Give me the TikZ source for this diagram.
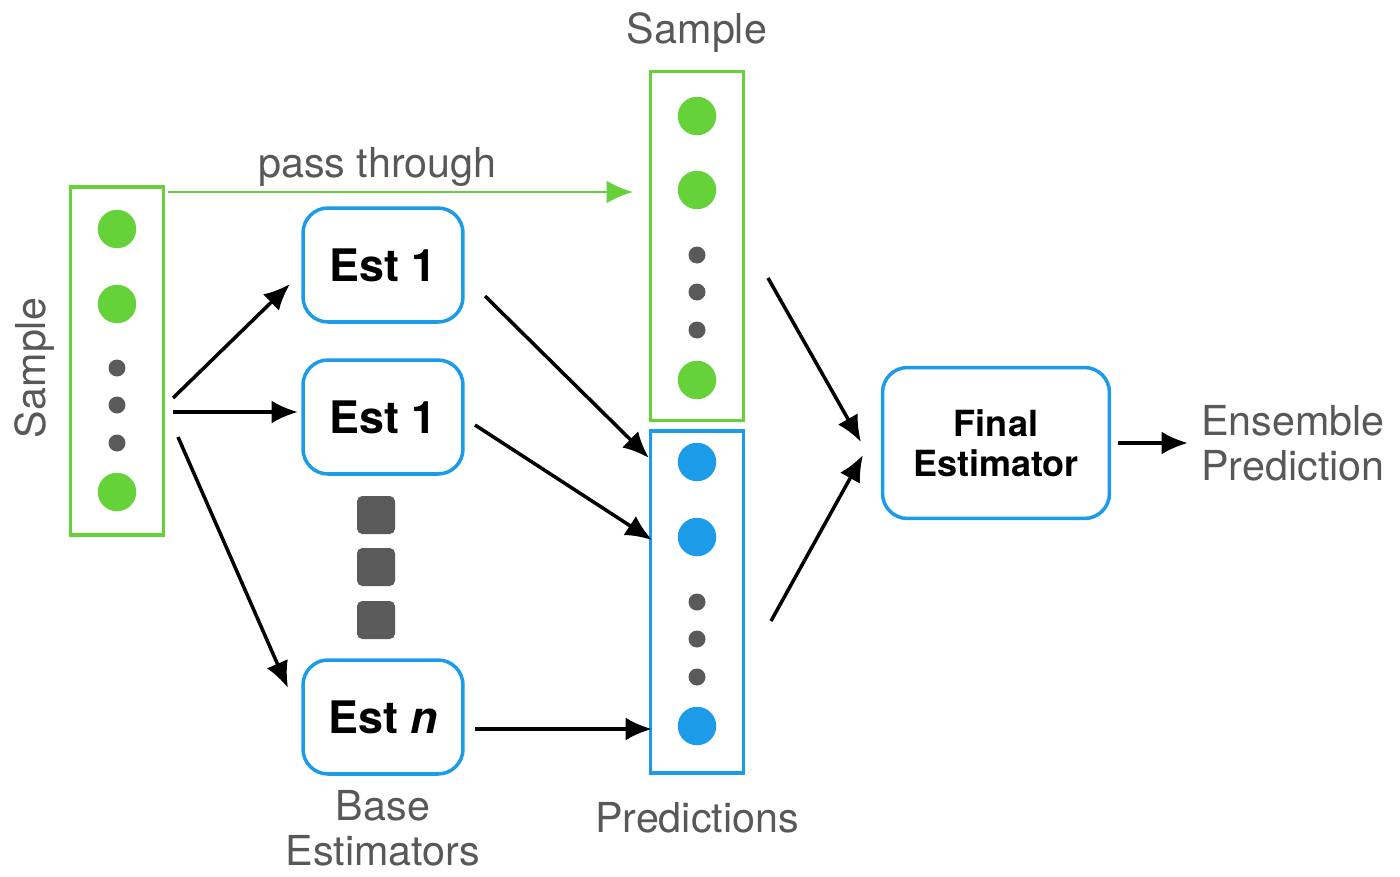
\documentclass[tikz,border=0pt]{standalone}
\usepackage{fontspec}
\setmainfont{TeX Gyre Heros}
\usetikzlibrary{arrows.meta}
\definecolor{smpgreen}{RGB}{102,210,58}
\definecolor{estblue}{RGB}{28,156,232}
\definecolor{txtgray}{RGB}{88,88,88}
\definecolor{dotgray}{RGB}{90,90,90}
\tikzset{
  colbox/.style={draw, line width=2pt, minimum width=1.86cm, inner sep=0pt},
  estbox/.style={draw=estblue, line width=2pt, rounded corners=0.5cm, minimum width=3.2cm, minimum height=2.28cm, align=center, font=\fontsize{25.5}{27}\selectfont\bfseries},
  bigdot/.style={circle, fill, inner sep=0pt, minimum size=0.77cm},
  smalldot/.style={circle, fill=dotgray, inner sep=0pt, minimum size=0.34cm},
  skip/.style={rounded corners=3pt, fill=dotgray, inner sep=0pt, minimum size=0.76cm},
  lbl/.style={text=txtgray, align=center, font=\fontsize{23.5}{25.5}\selectfont},
  flow/.style={->, line width=2pt}
}
\begin{document}
\begin{tikzpicture}[x=0.02cm, y=-0.02cm, >={Latex[length=15pt,width=13pt]}]
\useasboundingbox (0,0) rectangle (1400,876);
%	left sample column
\node [colbox, draw=smpgreen, minimum height=6.96cm] (smp) at (117,361) {};
\node [bigdot, smpgreen] (s1) at (117,229) {};
\node [bigdot, smpgreen] (s2) at (117,304) {};
\node [smalldot] (s3) at (117,368) {};
\node [smalldot] (s4) at (117,405) {};
\node [smalldot] (s5) at (117,443) {};
\node [bigdot, smpgreen] (s6) at (117,492) {};
\node [lbl, rotate=90] (smplbl) at (35,368) {Sample};
%	base estimators
\node [estbox] (est1) at (383,265) {Est 1};
\node [estbox] (est2) at (383,417) {Est 1};
\node [estbox] (estn) at (383,717) {Est \textit{n}};
\node [skip] (k1) at (376,515) {};
\node [skip] (k2) at (376,567) {};
\node [skip] (k3) at (376,620) {};
\node [lbl] (baselbl) at (383,828) {Base\\Estimators};
%	pass through sample column
\node [colbox, draw=smpgreen, minimum height=6.98cm] (top) at (697,246) {};
\node [bigdot, smpgreen] (t1) at (697,116) {};
\node [bigdot, smpgreen] (t2) at (697,190) {};
\node [smalldot] (t3) at (697,255) {};
\node [smalldot] (t4) at (697,292) {};
\node [smalldot] (t5) at (697,330) {};
\node [bigdot, smpgreen] (t6) at (697,380) {};
\node [lbl] (toplbl) at (697,33) {Sample};
%	predictions column
\node [colbox, draw=estblue, minimum height=6.84cm] (pred) at (697,602) {};
\node [bigdot, estblue] (p1) at (697,462) {};
\node [bigdot, estblue] (p2) at (697,537) {};
\node [smalldot] (p3) at (697,602) {};
\node [smalldot] (p4) at (697,639) {};
\node [smalldot] (p5) at (697,677) {};
\node [bigdot, estblue] (p6) at (697,726) {};
\node [lbl] (predlbl) at (697,818) {Predictions};
%	final estimator
\node [estbox, minimum width=4.54cm, minimum height=3.02cm, font=\fontsize{20.5}{23}\selectfont\bfseries] (fin) at (996,443) {Final\\Estimator};
\node [lbl] (ens) at (1293,443) {Ensemble\\Prediction};
%	free ends
\coordinate (a1) at (173,398);
\coordinate (a2) at (173,412);
\coordinate (a3) at (178,437);
\coordinate (b1) at (290,284);
\coordinate (b2) at (298,412);
\coordinate (b3) at (288,688);
\coordinate (c1) at (485,296);
\coordinate (c2) at (475,425);
\coordinate (c3) at (475,729);
\coordinate (d1) at (649,458);
\coordinate (d2) at (652,540);
\coordinate (d3) at (652,729);
\coordinate (e1) at (768,278);
\coordinate (e2) at (771,621);
\coordinate (f1) at (861,442);
\coordinate (f2) at (863,455);
\coordinate (g0) at (168,192);
\coordinate (g1) at (633,192);
%	connectors
\draw [flow, draw=smpgreen, line width=1.6pt] (g0) -- (g1) node [pos=0.45, lbl, above=-1pt] {pass through};
\draw [flow] (a1) -- (b1);
\draw [flow] (a2) -- (b2);
\draw [flow] (a3) -- (b3);
\draw [flow] (c1) -- (d1);
\draw [flow] (c2) -- (d2);
\draw [flow] (c3) -- (d3);
\draw [flow] (e1) -- (f1);
\draw [flow] (e2) -- (f2);
\draw [flow, shorten <=4pt, shorten >=4pt] (fin) -- (ens);
\end{tikzpicture}
\end{document}
